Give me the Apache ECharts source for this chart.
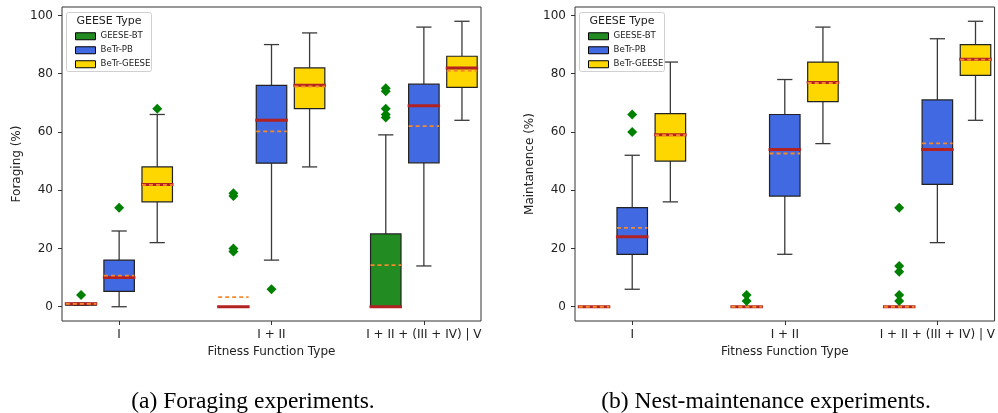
<!DOCTYPE html>
<html><head><meta charset="utf-8">
<script src="https://cdn.jsdelivr.net/npm/echarts@6/dist/echarts.min.js"></script>
<style>html,body{margin:0;padding:0;background:#fff}#c{width:998px;height:413px}</style>
</head><body><div id="c"></div>
<script>
const categories = ['I', 'I + II', 'I + II + (III + IV) | V'];
const geeseTypes = ['GEESE-BT', 'BeTr-PB', 'BeTr-GEESE'];
const yTicks = [0, 20, 40, 60, 80, 100];
// box stats per category: [whiskerLow, q1, median, q3, whiskerHigh, mean]
const foragingGeeseBT = [[0.5, 0.5, 1, 1.2, 1.2, 1], [0, 0, 0, 0, 0, 3.3], [0, 0, 0, 25, 59, 14.3]];
const foragingBetrPB = [[0, 5.3, 10, 16, 26, 10.7], [16, 49.3, 64, 76, 90, 60.2], [14, 49.4, 69, 76.4, 96, 62]];
const foragingBetrGeese = [[22, 36, 42, 48, 66, 41.8], [48, 68, 76, 82, 94, 75.6], [64, 75.3, 82, 86, 98, 81]];
const foragingOutBT = [[4], [38, 39, 19, 20], [75, 74, 68, 66, 65]];
const foragingOutPB = [[34], [6], []];
const foragingOutGeese = [[68], [], []];
const maintGeeseBT = [[0, 0, 0, 0, 0, 0], [0, 0, 0, 0, 0, 0], [0, 0, 0, 0, 0, 0]];
const maintBetrPB = [[6, 18, 24, 34, 52, 27.1], [18, 38, 54, 66, 78, 52.6], [22, 42, 54, 71, 92, 56.1]];
const maintBetrGeese = [[36, 50, 59, 66.3, 84, 58.9], [56, 70.4, 77, 84, 96, 76.8], [64, 79.4, 85, 90, 98, 84.8]];
const maintOutBT = [[], [4, 2], [34, 14, 12, 4, 2]];
const maintOutPB = [[66, 60], [], []];
const maintOutGeese = [[], [], []];

const colors = ['#228b22', '#4169e1', '#ffd700'];
const OFFS = [-0.25, 0, 0.25];
const BOX_W = 0.2;
const FONT = 'DejaVu Sans';

function makeRender(offset) {
  return function (params, api) {
    const x = api.value(0) + offset;
    const lo = api.value(1), q1 = api.value(2), med = api.value(3), q3 = api.value(4), hi = api.value(5), mean = api.value(6);
    const px = v => api.coord([v, 0])[0];
    const xl = px(x - BOX_W / 2), xr = px(x + BOX_W / 2), xc = px(x);
    const cl = px(x - BOX_W / 4), cr = px(x + BOX_W / 4);
    const y = v => api.coord([x, v])[1];
    const color = api.visual('color');
    const ws = { stroke: '#3a3a3a', lineWidth: 1.3, fill: null };
    return {
      type: 'group',
      children: [
        { type: 'line', shape: { x1: xc, y1: y(q1), x2: xc, y2: y(lo) }, style: ws },
        { type: 'line', shape: { x1: xc, y1: y(q3), x2: xc, y2: y(hi) }, style: ws },
        { type: 'line', shape: { x1: cl, y1: y(lo), x2: cr, y2: y(lo) }, style: ws },
        { type: 'line', shape: { x1: cl, y1: y(hi), x2: cr, y2: y(hi) }, style: ws },
        { type: 'rect', shape: { x: xl, y: y(q3), width: xr - xl, height: y(q1) - y(q3) }, style: { fill: color, stroke: '#222', lineWidth: 1.2 } },
        { type: 'line', shape: { x1: xl - 1, y1: y(med), x2: xr + 1, y2: y(med) }, style: { stroke: '#b22222', lineWidth: 3 } },
        { type: 'line', shape: { x1: xl, y1: y(mean), x2: xr, y2: y(mean) }, style: { stroke: '#f5892c', lineWidth: 1.8, lineDash: [4, 3] } }
      ]
    };
  };
}

const panels = [
  { boxes: [foragingGeeseBT, foragingBetrPB, foragingBetrGeese], outs: [foragingOutBT, foragingOutPB, foragingOutGeese], ylabel: 'Foraging (%)', left: 62, width: 419, caption: '(a) Foraging experiments.', capX: 253 },
  { boxes: [maintGeeseBT, maintBetrPB, maintBetrGeese], outs: [maintOutBT, maintOutPB, maintOutGeese], ylabel: 'Maintanence (%)', left: 575, width: 420, caption: '(b) Nest-maintenance experiments.', capX: 766 }
];

const grid = [], xAxis = [], yAxis = [], series = [], legend = [], graphic = [];
panels.forEach((p, pi) => {
  grid.push({ left: p.left, top: 7, width: p.width, height: 314, show: true, borderColor: '#333', borderWidth: 1, backgroundColor: 'transparent' });
  xAxis.push({
    gridIndex: pi, type: 'value', min: -0.375, max: 2.375,
    splitLine: { show: false }, axisLine: { show: false, onZero: false },
    axisTick: { show: true, customValues: [0, 1, 2], length: 4, lineStyle: { color: '#333' } },
    axisLabel: { customValues: [0, 1, 2], formatter: v => categories[Math.round(v)], fontSize: 12, fontFamily: FONT, color: '#222', margin: 8, hideOverlap: false },
    name: 'Fitness Function Type', nameLocation: 'middle', nameGap: 25,
    nameTextStyle: { fontSize: 12, fontFamily: FONT, color: '#222' }
  });
  yAxis.push({
    gridIndex: pi, type: 'value', min: -4.9, max: 102.9,
    splitLine: { show: false }, axisLine: { show: false, onZero: false },
    axisTick: { show: true, customValues: yTicks, length: 4, lineStyle: { color: '#333' } },
    axisLabel: { customValues: yTicks, fontSize: 12, fontFamily: FONT, color: '#222', margin: 9 },
    name: p.ylabel, nameLocation: 'middle', nameGap: 39, nameRotate: 90,
    nameTextStyle: { fontSize: 12, fontFamily: FONT, color: '#222' }
  });
  p.boxes.forEach((arr, ti) => {
    series.push({
      type: 'custom', name: geeseTypes[ti], xAxisIndex: pi, yAxisIndex: pi, clip: false, z: 2,
      itemStyle: { color: colors[ti], borderColor: '#000', borderWidth: 1 },
      renderItem: makeRender(OFFS[ti]),
      data: arr.map((s, ci) => [ci].concat(s))
    });
  });
  p.outs.forEach((arr, ti) => {
    const pts = [];
    arr.forEach((vals, ci) => vals.forEach(v => pts.push([ci + OFFS[ti], v])));
    series.push({
      type: 'scatter', name: 'outliers', xAxisIndex: pi, yAxisIndex: pi, z: 3,
      symbol: 'diamond', symbolSize: 10, itemStyle: { color: '#008000', opacity: 1 }, data: pts
    });
  });
  const lx = p.left + 4.5;
  legend.push({
    data: geeseTypes, orient: 'vertical', left: lx + 3.5, top: 25, itemWidth: 20, itemHeight: 7, itemGap: 1.5,
    icon: 'rect', selectedMode: false, z: 11,
    itemStyle: { borderColor: '#000', borderWidth: 1 },
    textStyle: { fontSize: 8.6, fontFamily: FONT, color: '#222', lineHeight: 12.5 }
  });
  graphic.push({ type: 'rect', z: 10, shape: { x: lx, y: 12.5, width: 85, height: 59, r: 2 }, style: { fill: '#fff', stroke: '#d0d0d0', lineWidth: 1 } });
  graphic.push({ type: 'text', z: 11, x: lx + 42.5, y: 21, style: { text: 'GEESE Type', fontSize: 11, fontFamily: FONT, fill: '#222', align: 'center', verticalAlign: 'middle' } });
  graphic.push({ type: 'text', z: 11, x: p.capX, y: 402, style: { text: p.caption, fontSize: 23.5, fontFamily: 'Liberation Serif', fill: '#000', align: 'center', verticalAlign: 'middle' } });
});

const chart = echarts.init(document.getElementById('c'), null, { renderer: 'canvas' });
chart.setOption({ animation: false, backgroundColor: '#fff', grid, xAxis, yAxis, series, legend, graphic });
</script></body></html>
